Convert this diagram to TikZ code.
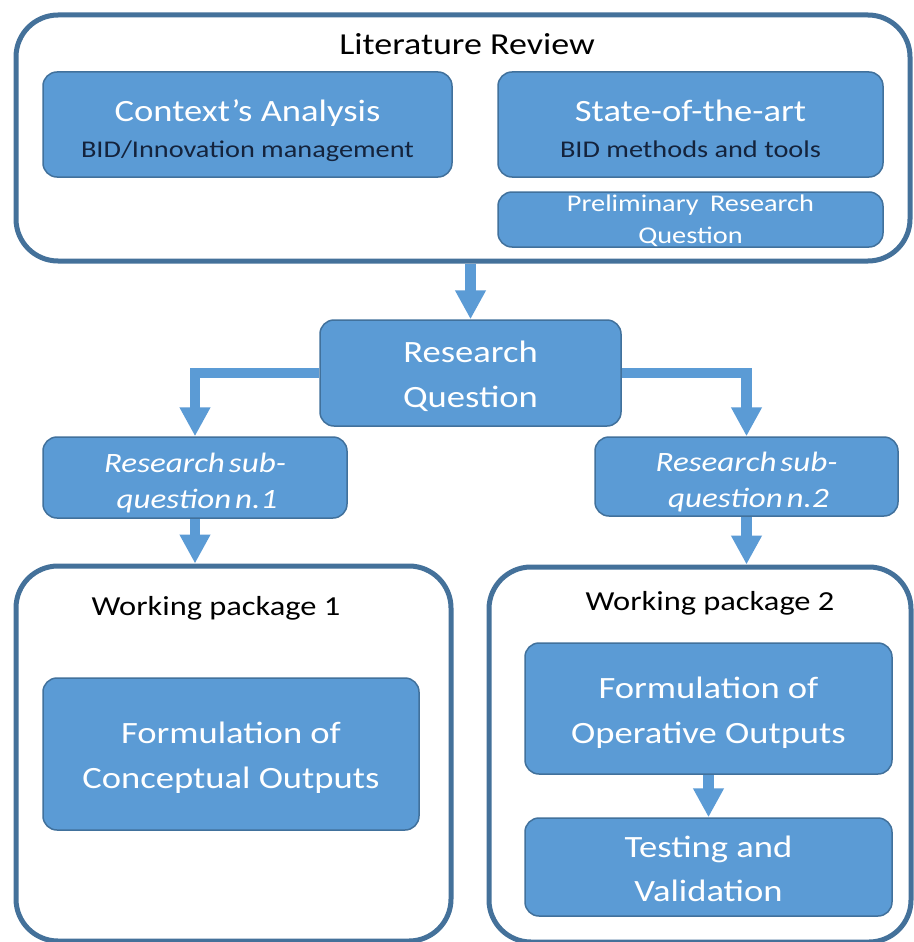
\documentclass[tikz,border=0pt]{standalone}
\usepackage{fontspec}
\setmainfont{Carlito}[FakeStretch=1.18]
\usetikzlibrary{arrows.meta}

\definecolor{boxfill}{HTML}{5B9BD5}
\definecolor{boxline}{HTML}{41719C}
\definecolor{frameline}{HTML}{44719A}
\definecolor{subtext}{HTML}{14233C}

\begin{document}
\begin{tikzpicture}[x=1pt,y=-1pt,
  frame/.style={draw=frameline, line width=5pt, rounded corners=42pt},
  bluebox/.style={draw=boxline, line width=1.5pt, fill=boxfill, rounded corners=14pt},
  txt/.style={anchor=base, inner sep=0pt},
  white31/.style={txt, text=white, font=\fontsize{31}{36}\selectfont},
  dark24/.style={txt, text=subtext, font=\fontsize{24}{28}\selectfont},
  ital/.style={txt, text=white, font=\itshape\fontsize{28}{32}\selectfont},
  heading/.style={txt, text=black, font=\fontsize{27.5}{33}\selectfont},
  flow/.style={draw=boxfill, line width=10.5pt, line join=miter,
    -{Triangle[length=29pt,width=29pt]}},
]
\fill[white] (0,0) rectangle (913,942);
\useasboundingbox (0,0) rectangle (913,942);

% literature review block
\node[frame, minimum width=894pt, minimum height=246pt] (lit) at (463,138) {};
\node[txt, text=black, font=\fontsize{30.5}{36}\selectfont] (littitle) at (467,55) {Literature Review};

\node[bluebox, minimum width=409pt, minimum height=105pt] (ca) at (247.5,124.5) {};
\node[white31] (ca1) at (247.5,121) {Context’s Analysis};
\node[dark24] (ca2) at (247.5,157) {BID/Innovation management};

\node[bluebox, minimum width=385pt, minimum height=105pt] (sota) at (690.5,124.5) {};
\node[white31] (sota1) at (690.5,121) {State-of-the-art};
\node[dark24] (sota2) at (690.5,157) {BID methods and tools};

\node[bluebox, minimum width=385pt, minimum height=55pt] (prq) at (690.5,219.5) {};
\node[txt, text=white, font=\fontsize{24}{28}\selectfont] (prq1) at (690.5,211)
  {Preliminary\hspace{5pt} Research};
\node[txt, text=white, font=\fontsize{24}{28}\selectfont] (prq2) at (690.5,243) {Question};

% research question and its two sub-questions
\node[bluebox, minimum width=301pt, minimum height=106pt] (rq) at (470.5,373) {};
\node[white31] (rq1) at (470.5,362) {Research};
\node[white31] (rq2) at (470.5,407) {Question};

\node[bluebox, minimum width=304pt, minimum height=81pt] (sq1) at (195,477.5) {};
\node[ital] (sq1a) at (195,472) {Research\hspace{4pt}sub-};
\node[ital] (sq1b) at (197,508) {question\hspace{4pt}n.1};

\node[bluebox, minimum width=303pt, minimum height=79pt] (sq2) at (746.5,476.5) {};
\node[ital] (sq2a) at (746.5,471) {Research\hspace{4pt}sub-};
\node[ital] (sq2b) at (748.5,507) {question\hspace{4pt}n.2};

% working package 1
\node[frame, minimum width=435pt, minimum height=375pt] (wp1) at (233.5,753.5) {};
\node[heading] (wp1title) at (216,615) {Working package 1};
\node[bluebox, minimum width=376pt, minimum height=152pt] (conc) at (231,754) {};
\node[white31] (conc1) at (231,743) {Formulation of};
\node[white31] (conc2) at (231,788) {Conceptual Outputs};

% working package 2
\node[frame, minimum width=422pt, minimum height=375pt] (wp2) at (700,754.5) {};
\node[heading] (wp2title) at (710,610) {Working package 2};
\node[bluebox, minimum width=367pt, minimum height=131pt] (op) at (708.5,708.5) {};
\node[white31] (op1) at (708.5,698) {Formulation of};
\node[white31] (op2) at (708.5,743) {Operative Outputs};
\node[bluebox, minimum width=367pt, minimum height=98pt] (test) at (708.5,867) {};
\node[white31] (test1) at (708.5,857) {Testing and};
\node[white31] (test2) at (708.5,901) {Validation};

% connectors
\draw[flow] (lit.south -| rq.north) -- (rq.north);
\draw[flow] (rq.west) -| (sq1.north);
\draw[flow] (rq.east) -| (sq2.north);
\draw[flow] (sq1.south) -- (sq1.south |- wp1.north);
\draw[flow] (sq2.south) -- (sq2.south |- wp2.north);
\draw[flow] (op.south) -- (test.north);
\end{tikzpicture}
\end{document}
